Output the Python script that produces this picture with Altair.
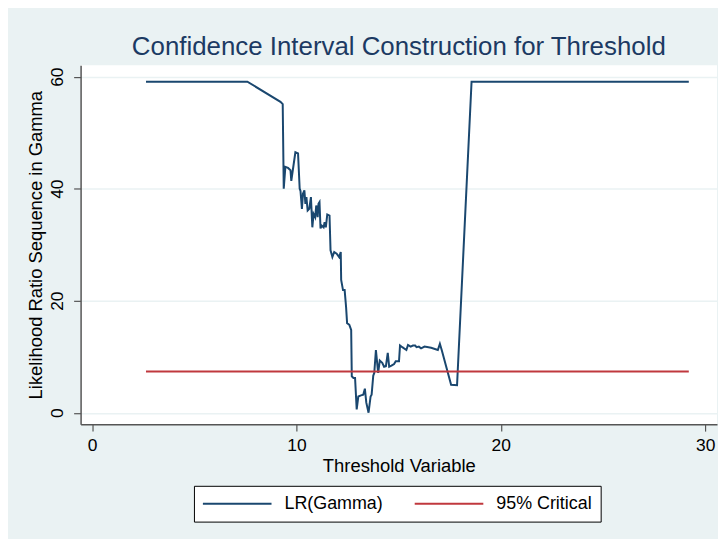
import altair as alt
import pandas as pd

# LR(Gamma) sequence
threshold = [2.64, 7.60, 9.22, 9.33, 9.38, 9.46, 9.59, 9.71, 9.75, 9.82,
             9.95, 10.08, 10.16, 10.20, 10.27, 10.32, 10.39, 10.44, 10.49, 10.55,
             10.63, 10.71, 10.78, 10.84, 10.92, 10.97, 11.04, 11.08, 11.13, 11.18,
             11.24, 11.33, 11.38, 11.44, 11.51, 11.62, 11.67, 11.76, 11.85, 11.97,
             12.09, 12.17, 12.19, 12.28, 12.36, 12.43, 12.48, 12.59, 12.68, 12.71,
             12.79, 12.87, 12.95, 13.03, 13.16, 13.27, 13.35, 13.42, 13.53, 13.63,
             13.68, 13.76, 13.81, 13.89, 14.00, 14.08, 14.20, 14.29, 14.38, 14.47,
             14.54, 14.65, 14.78, 14.86, 15.02, 15.07, 15.18, 15.38, 15.46, 15.59,
             15.70, 15.81, 15.88, 15.99, 16.10, 16.27, 16.59, 16.92, 17.02, 17.11,
             17.57, 17.86, 18.57, 29.20]
lr_gamma = [59.1, 59.1, 55.5, 55.1, 40.0, 43.9, 43.7, 43.3, 41.4, 43.2,
            46.5, 46.3, 40.0, 39.6, 36.4, 39.1, 39.7, 37.3, 38.5, 36.1,
            36.4, 38.5, 33.1, 35.5, 34.9, 37.0, 34.9, 37.3, 37.6, 32.9,
            33.4, 33.1, 34.0, 33.1, 35.4, 35.2, 29.0, 27.8, 28.7, 28.4,
            27.8, 28.7, 23.7, 21.9, 21.9, 18.9, 16.0, 15.7, 14.8, 6.5,
            6.2, 6.2, 0.6, 2.9, 3.1, 3.2, 4.3, 1.8, 0.0, 2.9,
            3.2, 6.6, 7.1, 11.2, 7.1, 9.3, 8.9, 8.2, 8.3, 10.7,
            8.2, 8.4, 8.7, 9.2, 9.2, 12.0, 11.7, 11.2, 12.1, 11.8,
            12.0, 12.0, 11.7, 11.8, 11.5, 11.8, 11.6, 11.2, 12.3, 11.2,
            5.0, 4.9, 59.1, 59.1]
assert len(threshold) == len(lr_gamma)

crit_x = [2.64, 29.20]
crit_value = 7.35

series_names = ["LR(Gamma)", "95% Critical"]
series_colors = ["#1a476f", "#c0383e"]
x_ticks = [0, 10, 20, 30]
y_ticks = [0, 20, 40, 60]

df = pd.concat([
    pd.DataFrame({"x": threshold, "y": lr_gamma, "series": series_names[0]}),
    pd.DataFrame({"x": crit_x, "y": [crit_value] * len(crit_x), "series": series_names[1]}),
], ignore_index=True)

FONT = "Liberation Sans"

chart = alt.Chart(df).mark_line(strokeWidth=2, clip=True).encode(
    x=alt.X("x:Q",
            scale=alt.Scale(domain=[-0.56, 30.58], nice=False, zero=False),
            axis=alt.Axis(values=x_ticks, title="Threshold Variable", grid=False,
                          labelFontSize=17.5, titleFontSize=18.5, labelPadding=5,
                          titlePadding=3, tickSize=7)),
    y=alt.Y("y:Q",
            scale=alt.Scale(domain=[-2.04, 62.05], nice=False, zero=False),
            axis=alt.Axis(values=y_ticks, title="Likelihood Ratio Sequence in Gamma",
                          grid=True, gridColor="#eaf2f3", gridWidth=1.5,
                          labelAngle=270, labelFontSize=17.5, titleFontSize=18.5,
                          labelPadding=7, titlePadding=3, tickSize=7)),
    color=alt.Color("series:N",
                    scale=alt.Scale(domain=series_names, range=series_colors),
                    legend=alt.Legend(title=None, orient="none", legendX=114, legendY=423,
                                      direction="horizontal", columns=2,
                                      symbolType="stroke", symbolSize=4761,
                                      symbolStrokeWidth=2, clipHeight=20,
                                      labelFontSize=18, labelFont=FONT, labelColor="black",
                                      fillColor="white", strokeColor="black",
                                      padding=8, columnPadding=30, labelOffset=12)),
).properties(
    width=640, height=361,
    title=alt.TitleParams("Confidence Interval Construction for Threshold",
                          fontSize=26, font=FONT, fontWeight="normal",
                          color="#1c3a63", anchor="middle", offset=5),
    background="#eaf2f3",
    padding={"left": 73, "top": 56, "right": 1, "bottom": 114},
    autosize=alt.AutoSizeParams(type="none"),
).configure_view(
    fill="white", strokeWidth=0
).configure_axis(
    labelFont=FONT, titleFont=FONT, labelColor="black", titleColor="black",
    titleFontWeight="normal", domainColor="#555555", tickColor="#555555",
    domainWidth=1.5, tickWidth=1.2
)

chart.save("out.html", embed_options={"renderer": "svg", "actions": False})
